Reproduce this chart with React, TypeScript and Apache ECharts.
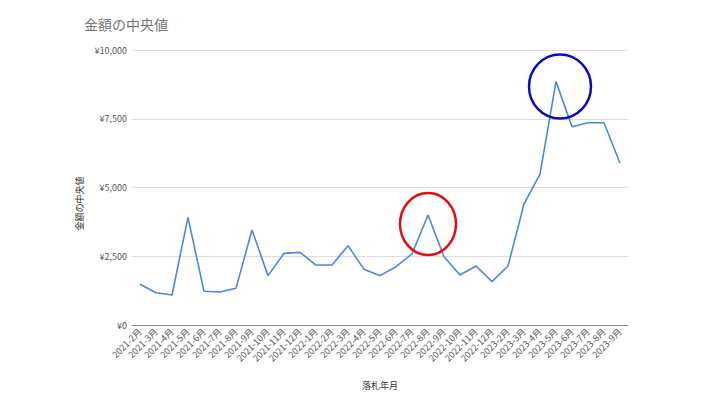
import React, { useEffect, useRef } from "react";
import * as echarts from "echarts";

const categories = [
  "2021-2月", "2021-3月", "2021-4月", "2021-5月", "2021-6月", "2021-7月", "2021-8月", "2021-9月",
  "2021-10月", "2021-11月", "2021-12月",
  "2022-1月", "2022-2月", "2022-3月", "2022-4月", "2022-5月", "2022-6月", "2022-7月", "2022-8月",
  "2022-9月", "2022-10月", "2022-11月", "2022-12月",
  "2023-2月", "2023-3月", "2023-4月", "2023-5月", "2023-6月", "2023-7月", "2023-8月", "2023-9月",
];

const medianValues = [
  1480, 1175, 1090, 3915, 1225, 1200, 1333, 3455, 1795, 2606, 2642,
  2180, 2180, 2885, 2024, 1795, 2120, 2582, 4000, 2480, 1818, 2145, 1576,
  2145, 4400, 5490, 8850, 7210, 7355, 7355, 5880,
];

const yTicks = [0, 2500, 5000, 7500, 10000];

const FONT = "'Noto Sans CJK JP', 'Noto Sans', sans-serif";

export default function App() {
  const ref = useRef<HTMLDivElement>(null);

  useEffect(() => {
    if (!ref.current) return;
    const chart = echarts.init(ref.current, undefined, { renderer: "svg" });
    chart.setOption({
      animation: false,
      backgroundColor: "#ffffff",
      textStyle: { fontFamily: FONT },
      title: {
        text: "金額の中央値",
        left: 79,
        top: 12,
        textStyle: { fontSize: 14, fontWeight: "normal", color: "#757575", fontFamily: FONT },
      },
      grid: { left: 132, right: 92, top: 50, bottom: 75 },
      xAxis: {
        type: "category",
        data: categories,
        boundaryGap: true,
        name: "落札年月",
        nameLocation: "middle",
        nameGap: 56,
        nameTextStyle: { fontSize: 9, color: "#333", fontFamily: FONT },
        axisLine: { show: true, lineStyle: { color: "#888", width: 1 } },
        axisTick: { show: false },
        axisLabel: {
          interval: 0,
          rotate: 45,
          fontSize: 9,
          color: "#555",
          margin: 5,
          fontFamily: FONT,
        },
        splitLine: { show: false },
      },
      yAxis: {
        type: "value",
        min: yTicks[0],
        max: yTicks[yTicks.length - 1],
        interval: 2500,
        name: "金額の中央値",
        nameLocation: "middle",
        nameRotate: 90,
        nameGap: 42,
        nameTextStyle: { fontSize: 9, color: "#333", fontFamily: FONT, padding: [0, 32, 0, 0] },
        axisLine: { show: false },
        axisTick: { show: false },
        axisLabel: {
          fontSize: 9,
          color: "#555",
          margin: 5,
          fontFamily: FONT,
          formatter: (v: number) => "¥" + v.toLocaleString("en-US"),
        },
        splitLine: { show: true, lineStyle: { color: "#dddddd", width: 1 } },
      },
      series: [
        {
          type: "line",
          data: medianValues,
          showSymbol: false,
          symbol: "none",
          lineStyle: { color: "#4a86e8", width: 1.6 },
          itemStyle: { color: "#4a86e8" },
        },
      ],
      graphic: [
        {
          type: "ellipse",
          shape: { cx: 428, cy: 224, rx: 28, ry: 31 },
          style: { fill: "none", stroke: "#e01010", lineWidth: 2.5 },
          z: 100,
        },
        {
          type: "ellipse",
          shape: { cx: 560, cy: 86.5, rx: 31, ry: 32 },
          style: { fill: "none", stroke: "#0a0ac8", lineWidth: 2.5 },
          z: 100,
        },
      ],
    });
    return () => chart.dispose();
  }, []);

  return (
    <div
      ref={ref}
      style={{ position: "fixed", left: 0, top: 0, width: 720, height: 400, background: "#fff" }}
    />
  );
}
